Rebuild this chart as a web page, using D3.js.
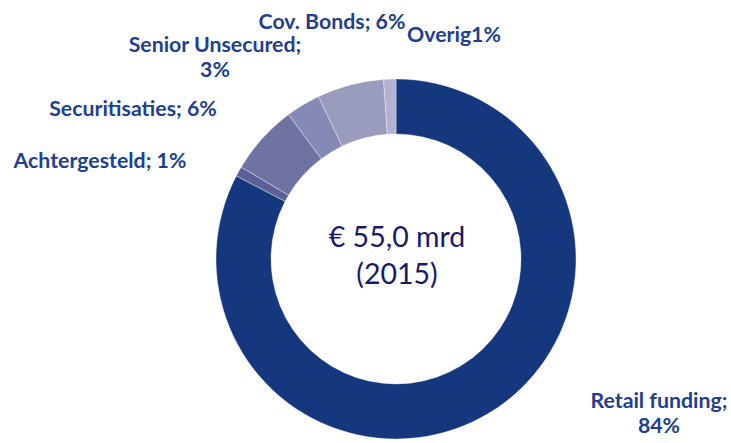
<!DOCTYPE html>
<html>
<head>
<meta charset="utf-8">
<script src="https://cdn.jsdelivr.net/npm/d3@7"></script>
<style>
  html, body { margin: 0; padding: 0; background: #fff; }
  svg { display: block; }
</style>
</head>
<body>
<div id="chart"></div>
<script>
// slice values (clockwise from 12 o'clock)
var categories = ["Retail funding", "Achtergesteld", "Securitisaties", "Senior Unsecured", "Cov. Bonds", "Overig"];
var values = [82.8, 0.9, 6.3, 3.1, 6.0, 1.1];
var labelLines = [
    ["Retail funding;", "84%"],
    ["Achtergesteld; 1%"],
    ["Securitisaties; 6%"],
    ["Senior Unsecured;", "3%"],
    ["Cov. Bonds; 6%"],
    ["Overig1%"]
];
var centerLines = ["€ 55,0 mrd", "(2015)"];

var colors = ["#14377d", "#5b6098", "#6e73a2", "#8589b5", "#999cbd", "#b0b2cf"];
// label anchor points (centre x, first baseline y)
var labelPos = [[659, 408], [100, 168], [133, 116], [215, 52], [332, 29], [454, 42]];

var width = 731, height = 443,
    cx = 396, cy = 259,
    outerR = 180, innerR = 125;

var svg = d3.select("#chart")
    .append("svg")
    .attr("width", width)
    .attr("height", height);

var pie = d3.pie().sort(null).value(function(d) { return d; });
var arc = d3.arc().innerRadius(innerR).outerRadius(outerR);

var g = svg.append("g").attr("transform", "translate(" + cx + "," + cy + ")");

g.selectAll("path")
    .data(pie(values))
    .enter()
    .append("path")
    .attr("d", arc)
    .style("fill", function(d, i) { return colors[i]; })
    .style("stroke", "#ffffff")
    .style("stroke-opacity", 0.45)
    .style("stroke-width", 0.8);

var labels = svg.selectAll(".label")
    .data(categories)
    .enter()
    .append("text")
    .attr("class", "label")
    .attr("text-anchor", "middle")
    .attr("x", function(d, i) { return labelPos[i][0]; })
    .attr("y", function(d, i) { return labelPos[i][1]; })
    .style("font-family", "Lato, 'Open Sans', sans-serif")
    .style("font-weight", "bold")
    .style("font-size", "21.3px")
    .style("fill", "#203f8e");

labels.each(function(d, i) {
    var t = d3.select(this);
    labelLines[i].forEach(function(line, j) {
        t.append("tspan")
            .attr("x", labelPos[i][0])
            .attr("dy", j === 0 ? 0 : 24.5)
            .text(line);
    });
});

svg.selectAll(".center")
    .data(centerLines)
    .enter()
    .append("text")
    .attr("class", "center")
    .attr("text-anchor", "middle")
    .attr("x", cx + 1)
    .attr("y", function(d, i) { return 247 + i * 37; })
    .style("font-family", "Lato, 'Open Sans', sans-serif")
    .style("font-size", "28.5px")
    .style("fill", "#1a1a6b")
    .text(function(d) { return d; });
</script>
</body>
</html>
